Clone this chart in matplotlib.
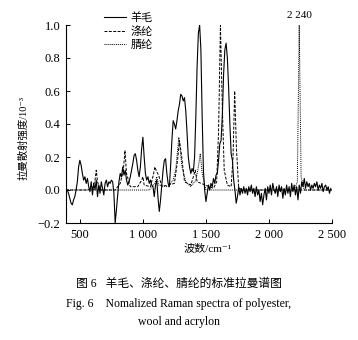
import numpy as np
import matplotlib
matplotlib.use("Agg")
import matplotlib.pyplot as plt

plt.rcParams['font.family'] = ['Liberation Serif', 'Noto Sans CJK SC', 'DejaVu Sans']

# wool (solid)
wool_x = [390, 400, 410, 420, 430, 440, 450, 460, 470, 480, 490, 500, 510, 520, 530, 540,
          550, 560, 570, 580, 590, 600, 610, 620, 630, 640, 650, 660, 670, 680, 690, 700,
          710, 720, 730, 740, 750, 760, 770, 780, 790, 800, 810, 820, 830, 840, 850, 860,
          870, 880, 890, 900, 910, 920, 930, 940, 950, 960, 970, 980, 990, 1000, 1010, 1020,
          1030, 1040, 1050, 1060, 1070, 1080, 1090, 1100, 1110, 1120, 1130, 1140, 1150, 1160,
          1170, 1180, 1190, 1200, 1210, 1220, 1230, 1240, 1250, 1260, 1270, 1280, 1290, 1300,
          1310, 1320, 1330, 1340, 1350, 1360, 1370, 1380, 1390, 1400, 1410, 1420, 1430, 1440,
          1450, 1460, 1470, 1480, 1490, 1500, 1510, 1520, 1530, 1540, 1550, 1560, 1570, 1580,
          1590, 1600, 1610, 1620, 1630, 1640, 1650, 1660, 1670, 1680, 1690, 1700, 1710, 1720,
          1730, 1740, 1750, 1760, 1770, 1780, 1790,
          1800, 1810, 1820, 1830, 1840, 1850, 1860, 1870, 1880, 1890, 1900, 1910, 1920, 1930,
          1940, 1950, 1960, 1970, 1980, 1990, 2000, 2010, 2020, 2030, 2040, 2050, 2060, 2070,
          2080, 2090, 2100, 2110, 2120, 2130, 2140, 2150, 2160, 2170, 2180, 2190, 2200, 2210,
          2220, 2230, 2240, 2250, 2260, 2270, 2280, 2290, 2300, 2310, 2320, 2330, 2340, 2350,
          2360, 2370, 2380, 2390, 2400, 2410, 2420, 2430, 2440, 2450, 2460, 2470, 2480, 2490]
wool_y = [0.01, 0.00, -0.02, -0.05, -0.08, -0.09, -0.06, -0.04, 0.00, 0.05, 0.14, 0.18, 0.15, 0.10, 0.06, 0.08,
          0.04, 0.07, 0.02, -0.01, 0.05, -0.03, 0.04, 0.00, 0.06, -0.04, 0.03, -0.02, 0.05, 0.01, -0.03, 0.04,
          0.06, 0.02, 0.05, 0.04, 0.06, 0.05, -0.02, -0.20, -0.12, -0.03, 0.05, 0.10, 0.08, 0.14, 0.09, 0.12,
          0.06, 0.03, 0.05, 0.08, 0.12, 0.16, 0.21, 0.22, 0.18, 0.12, 0.08, 0.14, 0.25, 0.32, 0.20, 0.10,
          0.06, 0.08, 0.04, 0.06, 0.03, 0.02, -0.04, 0.03, 0.06, -0.05, -0.13, -0.06, 0.03, 0.12,
          0.18, 0.19, 0.10, 0.04, 0.02, 0.15, 0.30, 0.42, 0.40, 0.37, 0.42, 0.48, 0.52, 0.58,
          0.57, 0.54, 0.56, 0.48, 0.35, 0.20, 0.14, 0.10, 0.13, 0.11, 0.20, 0.45, 0.75, 0.95,
          1.00, 0.85, 0.45, 0.12, 0.00, -0.07, -0.02, 0.03, 0.00, 0.04, 0.02, 0.07, 0.04, 0.09,
          0.10, 0.18, 0.28, 0.30, 0.45, 0.70, 0.85, 0.89, 0.80, 0.62, 0.40, 0.22, 0.18, 0.06,
          0.00, -0.08, -0.04, 0.02, -0.03, 0.01, -0.02,
          0.02, -0.02, 0.01, -0.03, 0.02, -0.01, 0.03, -0.02, 0.01, -0.04, 0.02, -0.03, 0.00, -0.07,
          -0.02, -0.09, -0.03, 0.01, -0.06, 0.02, -0.02, 0.03, -0.03, 0.04, 0.00, -0.02, 0.02, -0.04,
          0.03, -0.01, 0.02, -0.05, 0.01, -0.03, 0.03, -0.02, 0.02, -0.04, 0.04, -0.01, 0.03, -0.03,
          0.02, -0.06, 0.03, -0.02, 0.05, 0.02, 0.07, 0.01, 0.05, 0.02, 0.04, 0.00, 0.03, 0.01,
          0.04, 0.02, 0.05, 0.00, 0.03, 0.01, 0.04, -0.01, 0.02, 0.03, 0.00, 0.02, -0.02, 0.01]

# polyester (dashed)
pet_x = [390, 560, 600, 620, 630, 640, 660, 780, 820, 845, 858, 870, 900, 960, 990, 1000, 1010,
         1060, 1085, 1095, 1110, 1125, 1150, 1250, 1275, 1290, 1305, 1330, 1380, 1400, 1415, 1430,
         1560, 1585, 1600, 1615, 1630, 1645, 1670, 1700, 1715, 1728, 1742, 1760, 1800, 2500]
pet_y = [0.00, 0.00, 0.01, 0.06, 0.12, 0.05, 0.00, 0.00, 0.04, 0.12, 0.24, 0.10, 0.02, 0.02, 0.06, 0.08, 0.03,
         0.02, 0.10, 0.14, 0.11, 0.09, 0.02, 0.04, 0.18, 0.30, 0.22, 0.05, 0.03, 0.08, 0.12, 0.05,
         0.01, 0.05, 0.35, 1.00, 0.50, 0.12, 0.03, 0.02, 0.20, 0.60, 0.25, 0.01, 0.00, 0.00]

# acrylon (dotted)
pan_x = [390, 1050, 1095, 1110, 1125, 1200, 1240, 1260, 1285, 1310, 1340, 1380, 1420, 1440,
         1455, 1470, 1500, 2200, 2225, 2240, 2255, 2280, 2500]
pan_y = [0.00, 0.00, 0.04, 0.08, 0.03, 0.02, 0.06, 0.12, 0.32, 0.14, 0.05, 0.02, 0.06, 0.14,
         0.22, 0.10, 0.00, 0.00, 0.05, 1.00, 0.08, 0.00, 0.00]

x_ticks = [500, 1000, 1500, 2000, 2500]
x_tick_labels = ['500', '1 000', '1 500', '2 000', '2 500']
y_ticks = [-0.2, 0.0, 0.2, 0.4, 0.6, 0.8, 1.0]
y_tick_labels = ['\u22120.2', '0.0', '0.2', '0.4', '0.6', '0.8', '1.0']

fig = plt.figure(figsize=(3.58, 3.40), dpi=100)
ax = fig.add_axes([66 / 358, 1 - 223 / 340, 266 / 358, 198 / 340])

l1, = ax.plot(wool_x, wool_y, color='black', lw=0.8, ls='-')
l2, = ax.plot(pet_x, pet_y, color='black', lw=0.7, ls=(0, (3, 1.5)))
l3, = ax.plot(pan_x, pan_y, color='black', lw=0.7, ls=(0, (1, 1)))

ax.set_xlim(390, 2500)
ax.set_ylim(-0.2, 1.0)
ax.set_xticks(x_ticks)
ax.set_xticklabels(x_tick_labels)
ax.set_yticks(y_ticks)
ax.set_yticklabels(y_tick_labels)
ax.tick_params(direction='in', length=3, width=0.7, labelsize=9, pad=4)
for s in ['top', 'right']:
    ax.spines[s].set_visible(False)
for s in ['left', 'bottom']:
    ax.spines[s].set_linewidth(0.8)

ax.text(2240, 1.06, '2 240', ha='center', va='center', fontsize=8)

# axis titles, placed by hand
ax.text(0.534, -0.126, '波数/cm⁻¹', transform=ax.transAxes,
        ha='center', va='center', fontsize=8)
ax.text(-0.16, 0.43, '拉曼散射强度/10⁻³', transform=ax.transAxes,
        ha='center', va='center', rotation=90, fontsize=7.5)

fig.legend([l1, l2, l3], ['羊毛', '涤纶', '腈纶'], loc='upper left',
           bbox_to_anchor=(96 / 358, 1 - 4 / 340), frameon=False, fontsize=8,
           handlelength=2.0, handletextpad=0.4, labelspacing=0.3, borderpad=0.2)

fig.text(0.5, 1 - 284 / 340, '图 6   羊毛、涤纶、腈纶的标准拉曼谱图', ha='center', va='center', fontsize=8.5)
fig.text(0.5, 1 - 304 / 340, 'Fig. 6    Nomalized Raman spectra of polyester,', ha='center', va='center', fontsize=8.5)
fig.text(0.5, 1 - 322 / 340, 'wool and acrylon', ha='center', va='center', fontsize=8.5)

fig.savefig('out.png', dpi=100)
